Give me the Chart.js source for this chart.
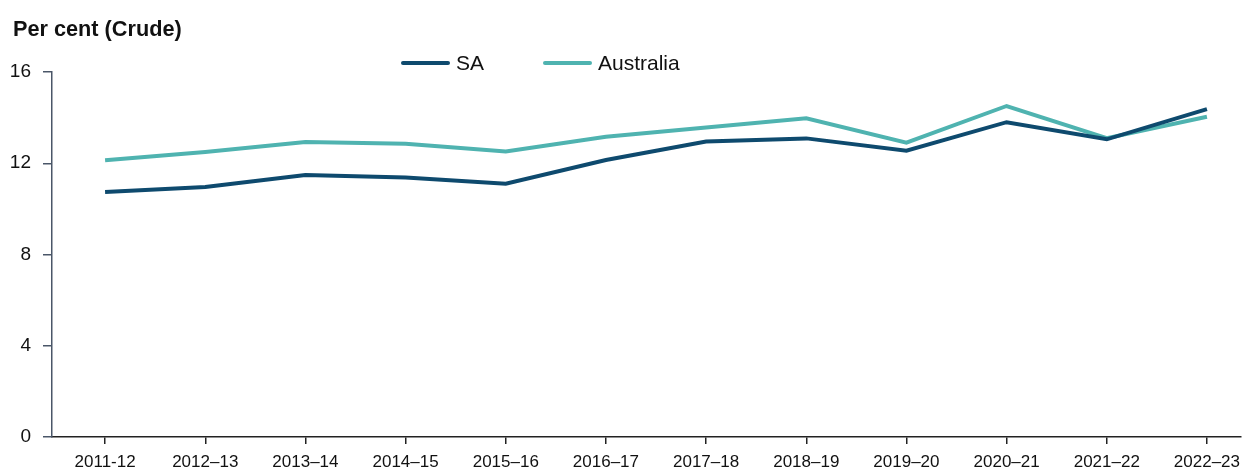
<!DOCTYPE html>
<html>
<head>
<meta charset="utf-8">
<script src="https://cdn.jsdelivr.net/npm/chart.js@4/dist/chart.umd.min.js"></script>
<style>
html,body{margin:0;padding:0;background:#fff;}
#wrap{width:1244px;height:469px;position:relative;}
</style>
</head>
<body>
<div id="wrap"><canvas id="c" width="1244" height="469"></canvas></div>
<script>
const categories = ['2011-12','2012–13','2013–14','2014–15','2015–16','2016–17','2017–18','2018–19','2019–20','2020–21','2021–22','2022–23'];
const saValues = [10.74, 10.96, 11.48, 11.37, 11.10, 12.14, 12.95, 13.09, 12.55, 13.80, 13.05, 14.37];
const australiaValues = [12.13, 12.49, 12.93, 12.85, 12.52, 13.16, 13.57, 13.97, 12.90, 14.51, 13.10, 14.04];
const yTicks = [0, 4, 8, 12, 16];
const yTitle = 'Per cent (Crude)';

const FONT = '"Liberation Sans", Arial, sans-serif';

const toPoints = vals => vals.map((v, i) => ({x: i, y: v}));

const overlay = {
  id: 'overlay',
  afterDraw(chart) {
    const ctx = chart.ctx;
    ctx.save();
    ctx.fillStyle = '#111';
    ctx.font = 'bold 21.7px ' + FONT;
    ctx.textBaseline = 'alphabetic';
    ctx.textAlign = 'left';
    ctx.fillText(yTitle, 13, 36);
    // legend
    const starts = [401, 543];
    ctx.font = '21px ' + FONT;
    ctx.textBaseline = 'middle';
    chart.data.datasets.forEach((ds, i) => {
      const x = starts[i];
      ctx.strokeStyle = ds.borderColor;
      ctx.lineWidth = 4;
      ctx.lineCap = 'round';
      ctx.beginPath();
      ctx.moveTo(x + 2, 63);
      ctx.lineTo(x + 47, 63);
      ctx.stroke();
      ctx.fillStyle = '#111';
      ctx.fillText(ds.label, x + 55, 64);
    });
    ctx.restore();
  }
};

new Chart(document.getElementById('c'), {
  type: 'line',
  data: {
    datasets: [
      {label: 'SA', data: toPoints(saValues), borderColor: '#0e4a6e', backgroundColor: '#0e4a6e', borderWidth: 4, pointRadius: 0, tension: 0},
      {label: 'Australia', data: toPoints(australiaValues), borderColor: '#4fb3b0', backgroundColor: '#4fb3b0', borderWidth: 4, pointRadius: 0, tension: 0}
    ]
  },
  options: {
    responsive: false,
    animation: false,
    layout: {padding: {top: 72, left: 0, right: 3, bottom: 0}},
    plugins: {legend: {display: false}, title: {display: false}, tooltip: {enabled: false}},
    scales: {
      x: {
        type: 'linear',
        min: -0.53,
        max: 11.34,
        grid: {drawOnChartArea: false, drawTicks: true, tickLength: 7, color: '#222', lineWidth: 1.5},
        border: {color: '#222', width: 1.5},
        afterBuildTicks(scale) { scale.ticks = categories.map((c, i) => ({value: i})); },
        afterFit(scale) { scale.height = 32; scale.paddingLeft = 0; scale.paddingRight = 0; },
        ticks: {
          autoSkip: false, maxRotation: 0, padding: 8,
          color: '#111', font: {family: FONT, size: 17},
          callback: (v) => categories[v]
        }
      },
      y: {
        min: 0, max: 16,
        afterBuildTicks(scale) { scale.ticks = yTicks.map(v => ({value: v})); },
        afterFit(scale) { scale.width = 52; scale.paddingTop = 0; scale.paddingBottom = 0; },
        grid: {drawOnChartArea: false, drawTicks: true, tickLength: 9, color: '#4a5668', lineWidth: 1.5},
        border: {color: '#4a5668', width: 1.5},
        ticks: {padding: 12, color: '#111', font: {family: FONT, size: 19}}
      }
    }
  },
  plugins: [overlay]
});
</script>
</body>
</html>
